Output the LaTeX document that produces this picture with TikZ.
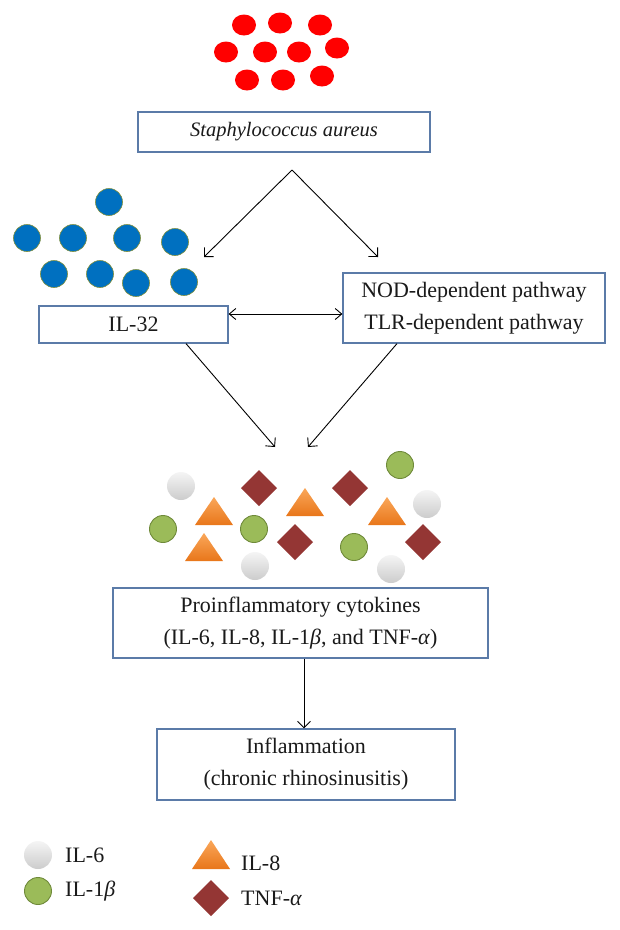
\documentclass[tikz,border=0pt]{standalone}
\usepackage{fontspec}
\setmainfont{Liberation Serif}
\usetikzlibrary{arrows.meta}
\definecolor{boxblue}{HTML}{5B7BA8}
\definecolor{sred}{HTML}{FF0000}
\definecolor{dotblue}{HTML}{0070C0}
\definecolor{dotrim}{HTML}{7F8F3F}
\definecolor{lgreen}{HTML}{9BBB59}
\definecolor{dgreen}{HTML}{6F8A3A}
\definecolor{oratop}{HTML}{FAA75A}
\definecolor{orabot}{HTML}{E8761A}
\definecolor{maroon}{HTML}{943634}
\definecolor{txt}{HTML}{1A1A1A}
\tikzset{
  box/.style={draw=boxblue, line width=1.2pt, fill=white, align=center, text=txt,
    font=\fontsize{22}{32}\selectfont, inner sep=0pt},
  arr/.style={line width=0.9pt, -{Straight Barb[length=6.5pt,width=13pt]}},
  darr/.style={line width=0.9pt, {Straight Barb[length=6.5pt,width=11pt]}-{Straight Barb[length=6.5pt,width=11pt]}},
  reddot/.style={fill=sred},
  bluedot/.style={fill=dotblue, draw=dotrim, line width=0.6pt},
  greendot/.style={fill=lgreen, draw=dgreen, line width=0.9pt},
  greydot/.style={top color=gray!8, bottom color=gray!40, draw=none},
  oratri/.style={top color=oratop, bottom color=orabot, draw=none},
  diam/.style={fill=maroon},
  leg/.style={anchor=west, text=txt, font=\fontsize{22}{26}\selectfont, inner sep=0pt}
}
\begin{document}
\begin{tikzpicture}[x=1pt,y=-1pt]
\useasboundingbox (0,0) rectangle (620,930);
% red bacteria
\foreach \x/\y in {244/25, 280/23, 320/25, 226/52, 265/52, 299/52, 337/48, 247/80, 283/80, 322/76}
  \fill[reddot] (\x,\y) ellipse [x radius=12, y radius=10.5];
% blue dots
\foreach \x/\y in {109/202, 27/238, 73/238, 127/238, 175/242, 54/274, 100/274, 136/283, 184/282}
  \path[bluedot] (\x,\y) circle [radius=13.5];
% boxes
\node[box, minimum width=292pt, minimum height=40pt, font=\fontsize{20.5}{24}\selectfont\itshape] (staph) at (284,132) {Staphylococcus aureus};
\node[box, minimum width=189pt, minimum height=37pt] (il32) at (133.5,324.5) {IL-32};
\node[box, minimum width=262pt, minimum height=70pt] (nod) at (474,308) {NOD-dependent pathway\\TLR-dependent pathway};
\node[box, minimum width=375pt, minimum height=70pt] (cyto) at (300.5,623) {Proinflammatory cytokines\\(IL-6, IL-8, IL-1\textit{β}, and TNF-\textit{α})};
\node[box, minimum width=298pt, minimum height=71pt] (infl) at (306,764.5) {Inflammation\\(chronic rhinosinusitis)};
% connectors
\coordinate (split) at (292,170);
\coordinate (tl) at (204,257);
\coordinate (tr) at (378,257);
\coordinate (cl) at (275,447);
\coordinate (cr) at (308,447);
\draw[arr] (split) -- (tl);
\draw[arr] (split) -- (tr);
\draw[darr] ([yshift=10.5pt]il32.east) -- ([yshift=-6pt]nod.west);
\draw[arr] ([xshift=52.5pt]il32.south) -- (cl);
\draw[arr] ([xshift=-77pt]nod.south) -- (cr);
\draw[arr] ([xshift=3.5pt]cyto.south) -- ([xshift=3.5pt]cyto.south |- infl.north);
% cytokines
\foreach \x/\y in {181/486, 255/566, 427/504, 391/569}
  \path[greydot] (\x,\y) circle [radius=14];
\foreach \x/\y in {163/529, 254/529, 400/465, 354/547}
  \path[greendot] (\x,\y) circle [radius=13.5];
\foreach \x/\y in {214/497, 204/533, 305/488, 387/497}
  \path[oratri] (\x,\y) -- (\x+19,\y+28) -- (\x-19,\y+28) -- cycle;
\foreach \x/\y in {259/488, 295/542, 350/488, 423/542}
  \fill[diam] (\x,\y-18) -- (\x+18,\y) -- (\x,\y+18) -- (\x-18,\y) -- cycle;
% legend
\path[greydot] (38,855) circle [radius=14];
\path[greendot] (38,891) circle [radius=13.5];
\path[oratri] (211,840) -- (230,869) -- (192,869) -- cycle;
\fill[diam] (211,880) -- (229,898) -- (211,916) -- (193,898) -- cycle;
\node[leg] (l6) at (65,855) {IL-6};
\node[leg] (l1) at (65,891) {IL-1\textit{β}};
\node[leg] (l8) at (241,863) {IL-8};
\node[leg] (lt) at (241,898) {TNF-\textit{α}};
\end{tikzpicture}
\end{document}
